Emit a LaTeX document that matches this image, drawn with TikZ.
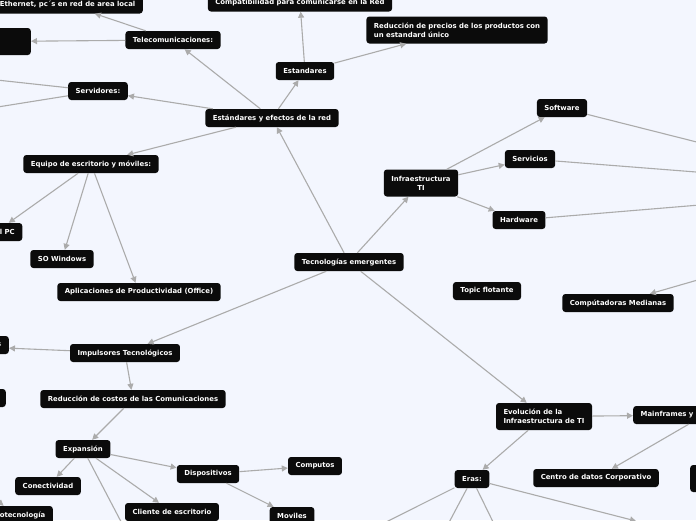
\documentclass[tikz,border=0pt]{standalone}
\usepackage{fontspec}
\newfontfamily\mapfont{DejaVu Sans}
\usetikzlibrary{arrows.meta}
\definecolor{bgcol}{HTML}{F3F6FE}
\definecolor{linkgray}{HTML}{ABABAB}
\definecolor{topicfill}{HTML}{0B0B0B}
\tikzset{
  topic/.style={fill=topicfill, text=white, rounded corners=3pt,
    font=\mapfont\bfseries\fontsize{6.9}{8.8}\selectfont,
    inner xsep=7.5pt, inner ysep=3pt, minimum height=18pt},
  topictwo/.style={topic, align=left, minimum height=27pt},
  blank/.style={topic, minimum width=80pt, minimum height=27pt},
  link/.style={draw=linkgray, line width=1.1pt, -{Triangle[length=6pt,width=6pt]}}
}

\begin{document}
\begin{tikzpicture}[x=1pt,y=-1pt]
  \useasboundingbox (0,0) rectangle (696,520);
  \fill[bgcol] (0,0) rectangle (696,520);
  \clip (0,0) rectangle (696,520);
  % centre and upper branch
  \node[topic] (tec) at (349,262) {Tecnologías emergentes};
  \node[topic] (est) at (272,118) {Estándares y efectos de la red};
  \node[topic] (estd) at (305,71) {Estandares};
  \node[topic] (compat) at (300,2.5) {Compatibilidad para comunicarse en la Red};
  \node[topictwo] (precios) at (457,30) {Reducción de precios de los productos con\\un estandard único};
  \node[topic] (telec) at (173,40) {Telecomunicaciones:};
  \node[topic,anchor=east] (ether) at (143,4.5) {Ethernet, pc´s en red de area local};
  \node[blank,anchor=east] (telecl) at (31,41.5) {};
  \node[topic] (serv) at (98,91) {Servidores:};
  \node[topic] (equipo) at (91,164) {Equipo de escritorio y móviles:};
  \node[topic,anchor=east] (wintel) at (22.5,232) {Wintel PC};
  \node[topic] (sowin) at (62,259) {SO Windows};
  \node[topic] (office) at (139,292) {Aplicaciones de Productividad (Office)};
  % infraestructura
  \node[topictwo,align=center] (infra) at (421,183) {Infraestructura\\TI};
  \node[topic] (soft) at (562,108) {Software};
  \node[topic] (servi) at (530,159) {Servicios};
  \node[topic] (hard) at (519,220) {Hardware};
  \node[topic] (flot) at (487,291) {Topic flotante};
  \node[topic] (medianas) at (618,303) {Compútadoras Medianas};
  % impulsores
  \node[topic] (impul) at (125,353) {Impulsores Tecnológicos};
  \node[topic,anchor=east] (moore) at (9,345) {Ley de Moore y microprocesadores};
  \node[topic,minimum width=80pt,anchor=east] (almac) at (6,398) {};
  \node[topic] (costos) at (133,399) {Reducción de costos de las Comunicaciones};
  \node[topic] (expan) at (83,449) {Expansión};
  \node[topic] (conect) at (48,486) {Conectividad};
  \node[topic,anchor=east] (nano) at (53,515) {Nanotecnología};
  \node[topic] (disp) at (208,474) {Dispositivos};
  \node[topic] (comput) at (315,466) {Computos};
  \node[topic] (movil) at (292,516) {Moviles};
  \node[topic] (cliente) at (172,512) {Cliente de escritorio};
  % evolucion
  \node[topictwo] (evol) at (544,416.5) {Evolución de la\\Infraestructura de TI};
  \node[topic,anchor=west] (mainf) at (633,415) {Mainframes y minicomputadoras};
  \node[topic] (centro) at (596,478) {Centro de datos Corporativo};
  \node[blank,anchor=west] (rbox) at (690,478.5) {};
  \node[topic] (eras) at (472,479) {Eras:};
  % ends outside the view
  \coordinate (srvA) at (-40,76);
  \coordinate (srvB) at (-40,113);
  \coordinate (softR) at (760,158);
  \coordinate (serviR) at (760,177);
  \coordinate (hardR) at (760,200);
  \coordinate (medR) at (760,262);
  \coordinate (expD) at (139,556);
  \coordinate (nanoU) at (-40,470);
  \coordinate (erasA) at (350,540);
  \coordinate (erasB) at (445,530);
  \coordinate (erasC) at (497,530);
  \coordinate (erasD) at (636,521);
  % connectors
  \foreach \a/\b in {tec/est, tec/infra, tec/impul, tec/evol,
      est/estd, est/telec, est/serv, est/equipo,
      estd/compat, estd/precios, telec/ether, telec/telecl,
      serv/srvA, serv/srvB, equipo/wintel, equipo/sowin, equipo/office,
      infra/soft, infra/servi, infra/hard,
      soft/softR, servi/serviR, hard/hardR, medR/medianas,
      impul/moore, impul/costos, costos/expan,
      expan/conect, expan/disp, expan/cliente, expan/expD, nanoU/nano,
      disp/comput, disp/movil,
      evol/mainf, evol/eras, mainf/centro,
      eras/erasA, eras/erasB, eras/erasC, eras/erasD}
    \draw[link] (\a) -- (\b);
\end{tikzpicture}
\end{document}
